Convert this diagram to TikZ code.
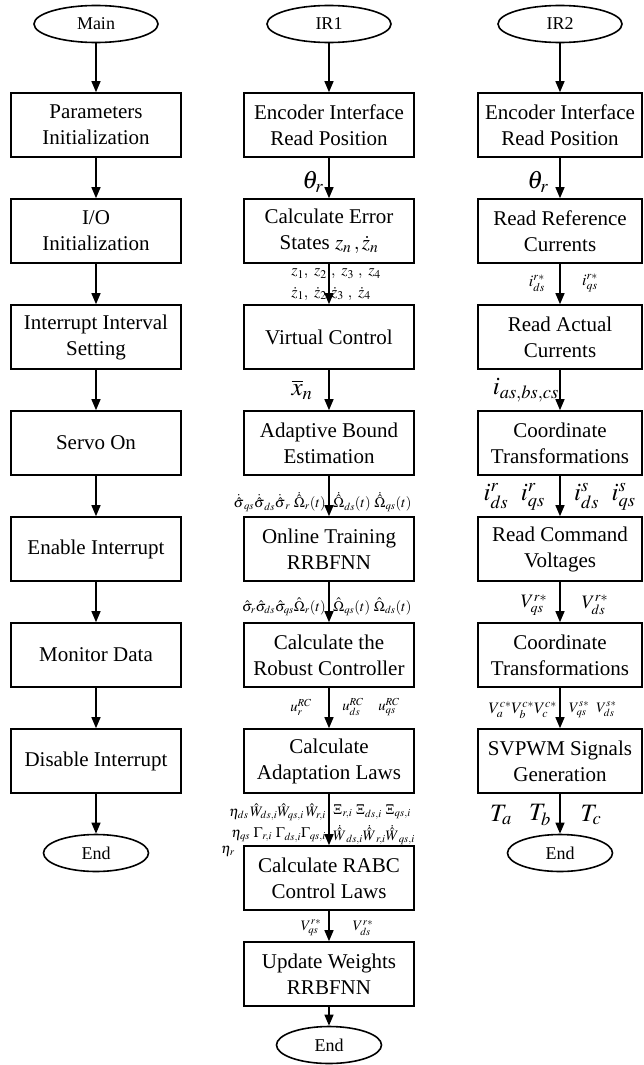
\documentclass[tikz,border=0pt]{standalone}
\usepackage{mathptmx}
\usepackage{fontspec}
\setmainfont{Liberation Serif}
\usetikzlibrary{arrows.meta,shapes.geometric}

\begin{document}
\begin{tikzpicture}[x=1pt, y=-1pt,
    box/.style={draw, line width=1.6pt, minimum width=170pt, minimum height=64pt, align=center, inner sep=0pt, font=\fontsize{21}{26}\selectfont},
    term/.style={draw, ellipse, line width=1.6pt, minimum width=124pt, minimum height=37pt, inner sep=0pt, font=\fontsize{18}{20}\selectfont},
    arr/.style={line width=1.3pt, -{Triangle[length=11pt,width=9pt]}},
    lbl/.style={inner sep=0pt, font=\fontsize{16}{18}\selectfont},
    sml/.style={inner sep=0pt, font=\fontsize{14.5}{16}\selectfont},
    big/.style={inner sep=0pt, font=\fontsize{25}{28}\selectfont}]
    \useasboundingbox (0,0) rectangle (644,1065);

    \node[term] (m0) at (96,24) {Main};
    \node[box] (m1) at (96,125) {Parameters\\Initialization};
    \node[box] (m2) at (96,231) {I/O\\Initialization};
    \node[box] (m3) at (96,337) {Interrupt Interval\\Setting};
    \node[box] (m4) at (96,443) {Servo On};
    \node[box] (m5) at (96,549) {Enable Interrupt};
    \node[box] (m6) at (96,655) {Monitor Data};
    \node[box] (m7) at (96,761) {Disable Interrupt};
    \node[term, minimum width=105pt] (m8) at (96,853) {End};

    \node[term] (a0) at (329,24) {IR1};
    \node[box] (a1) at (329,125) {Encoder Interface\\Read Position};
    \node[box] (a2) at (329,231) {Calculate Error\\States $z_n\,,\dot{z}_n$};
    \node[box] (a3) at (329,337) {Virtual Control};
    \node[box] (a4) at (329,443) {Adaptive Bound\\Estimation};
    \node[box] (a5) at (329,549) {Online Training\\RRBFNN};
    \node[box] (a6) at (329,655) {Calculate the\\Robust Controller};
    \node[box] (a7) at (329,761) {Calculate\\Adaptation Laws};
    \node[box] (a8) at (329,878) {Calculate RABC\\Control Laws};
    \node[box] (a9) at (329,974) {Update Weights\\RRBFNN};
    \node[term, minimum width=105pt] (a10) at (329,1045) {End};

    \node[term] (b0) at (560,24) {IR2};
    \node[box, minimum width=164pt] (b1) at (560,125) {Encoder Interface\\Read Position};
    \node[box, minimum width=164pt] (b2) at (560,231) {Read Reference\\Currents};
    \node[box, minimum width=164pt] (b3) at (560,337) {Read Actual\\Currents};
    \node[box, minimum width=164pt] (b4) at (560,443) {Coordinate\\Transformations};
    \node[box, minimum width=164pt] (b5) at (560,549) {Read Command\\Voltages};
    \node[box, minimum width=164pt] (b6) at (560,655) {Coordinate\\Transformations};
    \node[box, minimum width=164pt] (b7) at (560,761) {SVPWM Signals\\Generation};
    \node[term, minimum width=105pt] (b8) at (560,853) {End};

    \foreach \a/\b in {m0/m1,m1/m2,m2/m3,m3/m4,m4/m5,m5/m6,m6/m7,m7/m8,
        a0/a1,a1/a2,a2/a3,a3/a4,a4/a5,a5/a6,a6/a7,a7/a8,a8/a9,a9/a10,
        b0/b1,b1/b2,b2/b3,b3/b4,b4/b5,b5/b6,b6/b7,b7/b8}
        \draw[arr] (\a) -- (\b);

    \node[big] (p1) at (313,182) {$\theta_r$};
    \node[lbl, anchor=east] (p2) at (327,274) {$z_1,\ z_2$};
    \node[lbl, anchor=west] (p3) at (331,274) {$,\ z_3\ ,\ z_4$};
    \node[lbl, anchor=east] (p4) at (327,294) {$\dot{z}_1,\ \dot{z}_2$};
    \node[lbl, anchor=west] (p5) at (331,294) {$\dot{z}_3\ ,\ \dot{z}_4$};
    \node[big] (p6) at (302,390) {$\overline{x}_n$};
    \node[sml, anchor=east] (p7) at (326,502) {$\dot{\hat{\sigma}}_{qs}\dot{\hat{\sigma}}_{ds}\dot{\hat{\sigma}}_r\ \dot{\hat{\Omega}}_r(t)$};
    \node[sml, anchor=west] (p8) at (333,502) {$\dot{\hat{\Omega}}_{ds}(t)\ \dot{\hat{\Omega}}_{qs}(t)$};
    \node[sml, anchor=east] (p9) at (326,607) {$\hat{\sigma}_r\hat{\sigma}_{ds}\hat{\sigma}_{qs}\hat{\Omega}_r(t)$};
    \node[sml, anchor=west] (p10) at (333,607) {$\hat{\Omega}_{qs}(t)\ \hat{\Omega}_{ds}(t)$};
    \node[sml] (p11) at (301,707) {$u_r^{RC}$};
    \node[sml] (p12) at (353,707) {$u_{ds}^{RC}$};
    \node[sml] (p13) at (389,707) {$u_{qs}^{RC}$};
    \node[sml, anchor=east] (p14) at (326,812) {$\eta_{ds}\,\hat{W}_{ds,i}\hat{W}_{qs,i}\,\hat{W}_{r,i}$};
    \node[sml, anchor=east] (p15) at (326,835) {$\eta_{qs}\ \Gamma_{r,i}\ \Gamma_{ds,i}\Gamma_{qs,i}$};
    \node[sml, anchor=west] (p16) at (221,851) {$\eta_r$};
    \node[sml, anchor=west] (p17) at (333,812) {$\Xi_{r,i}\ \Xi_{ds,i}\ \Xi_{qs,i}$};
    \node[sml, anchor=west] (p18) at (333,835) {$\dot{\hat{W}}_{ds,i}\dot{\hat{W}}_{r,i}\dot{\hat{W}}_{qs,i}$};
    \node[sml] (p19) at (311,928) {$V_{qs}^{r*}$};
    \node[sml] (p20) at (363,928) {$V_{ds}^{r*}$};

    \node[big] (q1) at (538,182) {$\theta_r$};
    \node[lbl] (q2) at (537,283) {$i_{ds}^{r*}$};
    \node[lbl] (q3) at (590,283) {$i_{qs}^{r*}$};
    \node[big, anchor=east] (q4) at (559,390) {$i_{as,bs,cs}$};
    \node[big, anchor=east] (q5) at (545,497) {$i_{ds}^r\ \ i_{qs}^r$};
    \node[big, anchor=west] (q6) at (574,497) {$i_{ds}^s\ \ i_{qs}^s$};
    \node[lbl, font=\fontsize{19}{21}\selectfont] (q7) at (534,605) {$V_{qs}^{r*}$};
    \node[lbl, font=\fontsize{19}{21}\selectfont] (q8) at (595,605) {$V_{ds}^{r*}$};
    \node[lbl, anchor=east] (q9) at (557,710) {$V_a^{c*}V_b^{c*}V_c^{c*}$};
    \node[sml, anchor=west] (q10) at (569,710) {$V_{qs}^{s*}\ \ V_{ds}^{s*}$};
    \node[big] (q11) at (501,815) {$T_a$};
    \node[big] (q12) at (540,815) {$T_b$};
    \node[big] (q13) at (591,815) {$T_c$};
\end{tikzpicture}
\end{document}
